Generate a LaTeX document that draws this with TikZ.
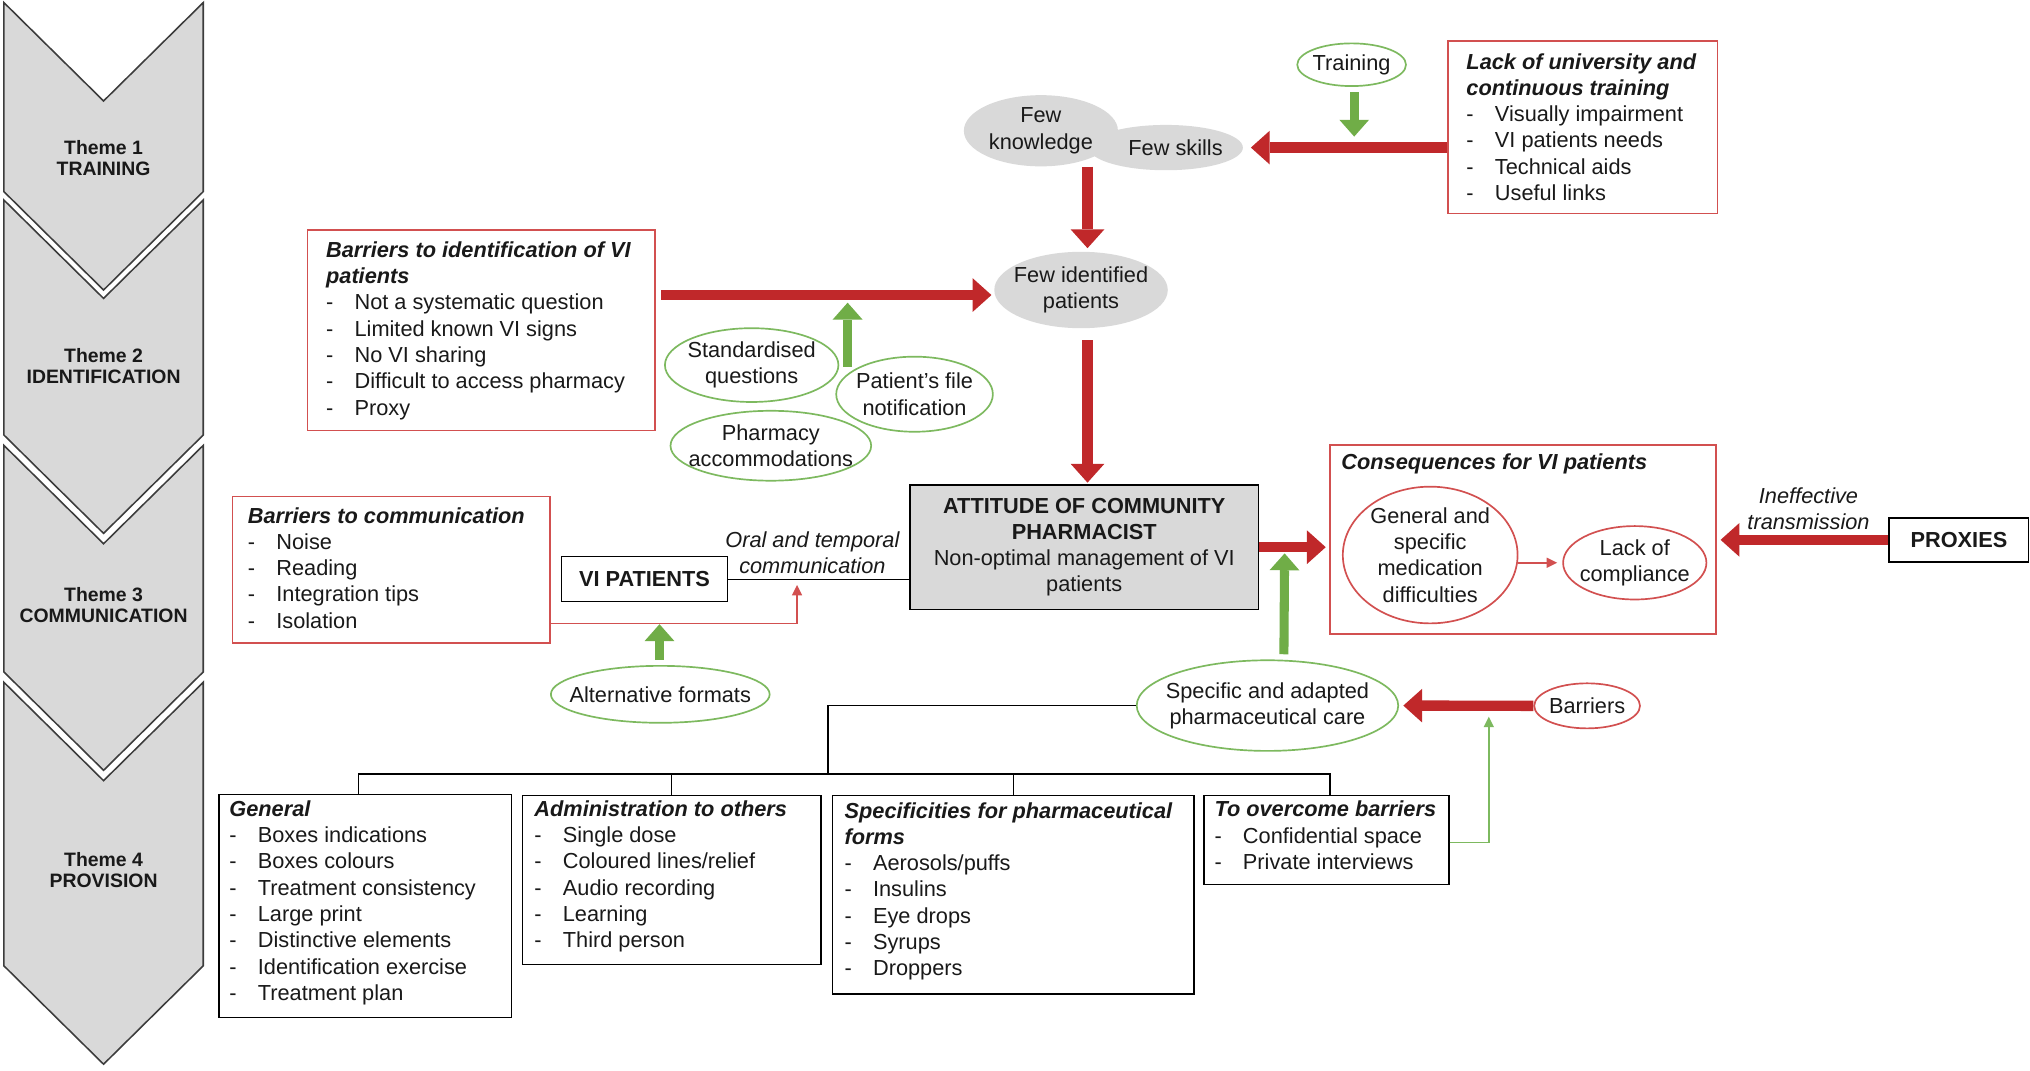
\documentclass[tikz,border=0pt]{standalone}
\usepackage{fontspec}
\setmainfont{Liberation Sans}
\usetikzlibrary{shapes.geometric,arrows.meta,calc}
\definecolor{lgray}{RGB}{217,217,217}
\definecolor{chevline}{RGB}{60,60,60}
\definecolor{boxred}{RGB}{210,80,80}
\definecolor{arrred}{RGB}{192,40,42}
\definecolor{ellgreen}{RGB}{125,185,95}
\definecolor{arrgreen}{RGB}{112,173,71}
\definecolor{txtc}{RGB}{25,25,25}
\newcommand{\fsz}{\fontsize{16.8}{20.3}\selectfont}
\newcommand{\thz}{\fontsize{15}{16}\selectfont\bfseries}
\newcommand{\itm}[1]{\makebox[22pt][l]{-}#1}
\newcommand{\bti}[1]{\textbf{\textit{#1}}}
\begin{document}
\begin{tikzpicture}[x=1pt,y=-1pt,
  chev/.style={fill=lgray, draw=chevline, line width=1.2pt, line join=miter},
  theme/.style={inner sep=0pt, align=center, font=\thz, text=txtc},
  rbox/.style={draw=boxred, line width=1.2pt, inner sep=0pt},
  kbox/.style={draw=black, line width=1.1pt, inner sep=0pt},
  txt/.style={inner sep=0pt, align=left, anchor=north west, font=\fsz, text=txtc},
  lbl/.style={inner sep=0pt, align=center, font=\fsz\itshape, text=txtc},
  ellbase/.style={ellipse, inner xsep=-40pt, inner ysep=-25pt, align=center, font=\fsz, text=txtc},
  grayell/.style={ellbase, fill=lgray},
  gell/.style={ellbase, draw=ellgreen, line width=1.3pt},
  rell/.style={ellbase, draw=boxred, line width=1.3pt},
  bigred/.style={draw=arrred, line width=8pt, -{Triangle[width=26pt,length=14.5pt,line width=0pt]}},
  biggreen/.style={draw=arrgreen, line width=7pt, -{Triangle[width=23pt,length=13pt,line width=0pt]}},
  thinred/.style={draw=boxred, line width=1.3pt, -{Triangle[width=8pt,length=8pt,line width=0pt]}},
  thingreen/.style={draw=ellgreen, line width=1.3pt, -{Triangle[width=8pt,length=8pt,line width=0pt]}},
  tree/.style={draw=black, line width=1.1pt}
]
\path[use as bounding box, fill=white] (0,0) rectangle (1568,826.5);

% chevrons
\draw[chev] (3,2) -- (80,78) -- (157,2) -- (157,148) -- (80,224) -- (3,148) -- cycle;
\draw[chev] (3,154.5) -- (80,230.5) -- (157,154.5) -- (157,336) -- (80,412) -- (3,336) -- cycle;
\draw[chev] (3,344) -- (80,420) -- (157,344) -- (157,519) -- (80,595) -- (3,519) -- cycle;
\draw[chev] (3,527) -- (80,603) -- (157,527) -- (157,746) -- (80,822) -- (3,746) -- cycle;
\node[theme] (th1) at (80,122) {Theme 1\\TRAINING};
\node[theme] (th2) at (80,282.5) {Theme 2\\IDENTIFICATION};
\node[theme] (th3) at (80,467.5) {Theme 3\\COMMUNICATION};
\node[theme] (th4) at (80,672) {Theme 4\\PROVISION};

% Theme 1
\node[grayell, minimum width=119pt, minimum height=35pt] (FewS) at (900.5,114) {\hspace*{15pt}Few skills};
\node[grayell, minimum width=119pt, minimum height=55pt] (FewK) at (804,101) {Few\\knowledge};
\node[gell, minimum width=84pt, minimum height=33pt] (Train) at (1044,50) {Training};
\node[rbox, anchor=north west, minimum width=208.3pt, minimum height=133.3pt] (LackB) at (1117.7,31) {};
\node[txt] (LackT) at (1132.5,38.9) {\strut\bti{Lack of university and}\\\bti{continuous training}\\\itm{Visually impairment}\\\itm{VI patients needs}\\\itm{Technical aids}\\\itm{Useful links}};

% Theme 2
\node[grayell, minimum width=134pt, minimum height=59pt] (FewI) at (835,224) {Few identified\\patients};
\node[rbox, anchor=north west, minimum width=268.2pt, minimum height=155pt] (IDB) at (237,177) {};
\node[txt] (IDT) at (251.7,184.4) {\strut\bti{Barriers to identification of VI}\\\bti{patients}\\\itm{Not a systematic question}\\\itm{Limited known VI signs}\\\itm{No VI sharing}\\\itm{Difficult to access pharmacy}\\\itm{Proxy}};
\node[gell, minimum width=134pt, minimum height=57pt] (StdQ) at (580.6,282) {Standardised\\questions};
\node[gell, minimum width=121pt, minimum height=58pt] (PatF) at (706.4,304.5) {Patient’s file\\notification};
\node[gell, minimum width=155pt, minimum height=54pt] (PhA) at (595.4,344.3) {Pharmacy\\accommodations};
\coordinate (gqS) at (654.7,283.2);
\coordinate (gqT) at (654.7,233.8);

% Theme 3
\node[draw=black, line width=1.1pt, fill=lgray, minimum width=269pt, minimum height=96pt, inner sep=0pt, align=center, font=\fsz, text=txtc] (ATT) at (837.5,422.65) {\textbf{ATTITUDE OF COMMUNITY}\\\textbf{PHARMACIST}\\Non-optimal management of VI\\patients};
\node[kbox, minimum width=128.4pt, minimum height=34.8pt, font=\fsz\bfseries, text=txtc] (VIP) at (497.8,447.4) {VI PATIENTS};
\node[lbl] (oral) at (627.5,427.2) {Oral and temporal\\communication};
\node[rbox, anchor=north west, minimum width=245.5pt, minimum height=113.3pt] (CommB) at (178.9,382.9) {};
\node[txt] (CommT) at (191.3,389.6) {\strut\bti{Barriers to communication}\\\itm{Noise}\\\itm{Reading}\\\itm{Integration tips}\\\itm{Isolation}};
\node[gell, minimum width=169pt, minimum height=44pt] (Alt) at (510,536.3) {Alternative formats};
\node[rbox, anchor=north west, minimum width=298.5pt, minimum height=146.2pt] (ConsB) at (1026.5,343) {};
\node[txt] (ConsT) at (1035.9,347.9) {\strut\bti{Consequences for VI patients}};
\node[rell, minimum width=135pt, minimum height=105.6pt] (Gen) at (1104.7,428.7) {General and\\specific\\medication\\difficulties};
\node[rell, minimum width=110.7pt, minimum height=56.7pt] (LoC) at (1262.7,434.7) {Lack of\\compliance};
\node[kbox, minimum width=107.8pt, minimum height=33.9pt, font=\fsz\bfseries, text=txtc] (Prox) at (1513.1,417) {PROXIES};
\node[lbl] (ineff) at (1396.9,392.7) {Ineffective\\transmission};

% Theme 4
\node[gell, minimum width=202pt, minimum height=70pt] (Spec) at (979,545) {Specific and adapted\\pharmaceutical care};
\node[rell, minimum width=81.7pt, minimum height=34.8pt] (Barr) at (1225.9,545.2) {Barriers};
\node[kbox, anchor=north west, minimum width=226.2pt, minimum height=172pt] (GenB) at (168.5,613.3) {};
\node[txt] (GenT) at (177,616.2) {\strut\bti{General}\\\itm{Boxes indications}\\\itm{Boxes colours}\\\itm{Treatment consistency}\\\itm{Large print}\\\itm{Distinctive elements}\\\itm{Identification exercise}\\\itm{Treatment plan}};
\node[kbox, anchor=north west, minimum width=230.6pt, minimum height=130.6pt] (AdmB) at (403,614) {};
\node[txt] (AdmT) at (412.6,616.2) {\strut\bti{Administration to others}\\\itm{Single dose}\\\itm{Coloured lines/relief}\\\itm{Audio recording}\\\itm{Learning}\\\itm{Third person}};
\node[kbox, anchor=north west, minimum width=279.3pt, minimum height=153.3pt] (SpfB) at (642.5,614) {};
\node[txt] (SpfT) at (652.2,617.5) {\strut\bti{Specificities for pharmaceutical}\\\bti{forms}\\\itm{Aerosols/puffs}\\\itm{Insulins}\\\itm{Eye drops}\\\itm{Syrups}\\\itm{Droppers}};
\node[kbox, anchor=north west, minimum width=189pt, minimum height=68.8pt] (OvB) at (929.5,614) {};
\node[txt] (OvT) at (937.9,616.6) {\strut\bti{To overcome barriers}\\\itm{Confidential space}\\\itm{Private interviews}};

% tree
\coordinate (tj) at (639.4,597.9);
\coordinate (gtop) at ($(GenB.north)+(-5.4,0)$);
\coordinate (otop) at ($(OvB.north)+(2.9,0)$);
\draw[tree] (Spec.west) -| (tj);
\draw[tree] (gtop) |- (tj) -| (otop);
\draw[tree] (AdmB.north) -- (AdmB.north |- tj);
\draw[tree] (SpfB.north) -- (SpfB.north |- tj);

% connectors
\draw[tree] (VIP.east) -- (ATT.west |- VIP.east);
\draw[bigred] (LackB.west |- FewS.east) -- ($(FewS.east)+(6,0)$);
\draw[biggreen] ($(Train.south)+(2,4)$) -- ($(Train.south |- FewS.east)+(2,-8.5)$);
\draw[bigred] ($(FewI.north |- FewS.south)+(5,-3)$) -- ($(FewI.north)+(5,-2.6)$);
\draw[bigred] ($(IDB.east |- FewI.west)+(4.5,3.9)$) -- ($(FewI.west)+(-2,3.9)$);
\draw[biggreen] (gqS) -- (gqT);
\draw[bigred] ($(FewI.south)+(5,9)$) -- ($(ATT.north -| FewI.south)+(5,-1.3)$);
\draw[bigred] (ATT.east) -- ($(ATT.east -| ConsB.west)+(-2.5,0)$);
\draw[biggreen] ($(Spec.north)+(12.7,-4)$) -- ($(ATT.east)+(19.7,4.8)$);
\draw[bigred] (Prox.west) -- ($(Prox.west -| ConsB.east)+(2.8,0)$);
\draw[bigred] (Barr.west) -- ($(Spec.east)+(3.3,0)$);
\draw[biggreen] ($(Alt.north)+(-0.6,-4)$) -- ($(Alt.north)+(-0.6,-31.5)$);
\draw[thinred] (Gen.east |- LoC.west) -- ($(LoC.west)+(-4,0)$);
\draw[thinred] ($(CommB.east)+(0,41.5)$) -| ($(VIP.east)+(53.1,4.5)$);
\draw[thingreen] ($(OvB.east)+(0,1.7)$) -| ($(Barr.west)+(-34.4,8.4)$);
\end{tikzpicture}
\end{document}
